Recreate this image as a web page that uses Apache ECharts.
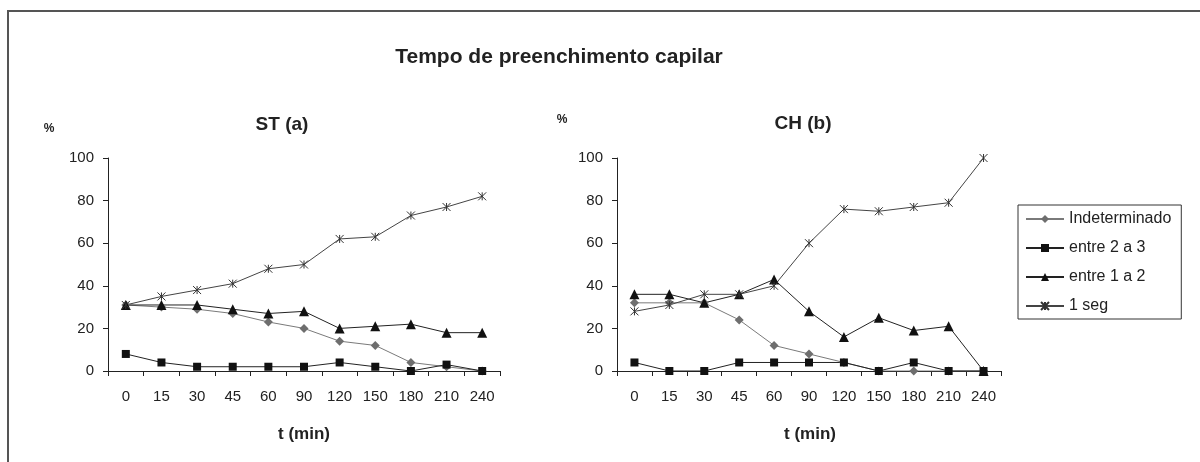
<!DOCTYPE html>
<html>
<head>
<meta charset="utf-8">
<style type="text/css">
  * { margin: 0; padding: 0; }
  body { background: #fff; }
</style>
<script src="https://cdn.jsdelivr.net/npm/echarts@6/dist/echarts.min.js"></script>
</head>
<body>
<div id="chart" style="width: 1200px;height: 462px;"></div>
<script type="text/javascript">
  // tempos (min)
  const categories = ['0', '15', '30', '45', '60', '90', '120', '150', '180', '210', '240']
  const yTicks = [0, 20, 40, 60, 80, 100]
  const seriesNames = ['Indeterminado', 'entre 2 a 3', 'entre 1 a 2', '1 seg']

  // ST (a)
  const stIndet = [31, 30, 29, 27, 23, 20, 14, 12, 4, 2, 0]
  const st23 = [8, 4, 2, 2, 2, 2, 4, 2, 0, 3, 0]
  const st12 = [31, 31, 31, 29, 27, 28, 20, 21, 22, 18, 18]
  const st1seg = [31, 35, 38, 41, 48, 50, 62, 63, 73, 77, 82]

  // CH (b)
  const chIndet = [32, 32, 32, 24, 12, 8, 4, 0, 0, 0, 0]
  const ch23 = [4, 0, 0, 4, 4, 4, 4, 0, 4, 0, 0]
  const ch12 = [36, 36, 32, 36, 43, 28, 16, 25, 19, 21, 0]
  const ch1seg = [28, 31, 36, 36, 40, 60, 76, 75, 77, 79, 100]

  const font = 'Liberation Sans, Arial, sans-serif'
  const star = 'path://M0,0L10,10M10,0L0,10M5,0L5,10'

  // estilo de cada serie, igual nos dois graficos
  function makeSeries(name, data, idx) {
    let s = {
      name: name,
      type: 'line',
      xAxisIndex: idx,
      yAxisIndex: idx,
      data: data,
      symbolKeepAspect: true,
      animation: false
    }
    if (name === 'Indeterminado') {
      s.symbol = 'diamond'
      s.symbolSize = 9
      s.itemStyle = {color: '#6e6e6e'}
      s.lineStyle = {color: '#7a7a7a', width: 1}
    } else if (name === 'entre 2 a 3') {
      s.symbol = 'rect'
      s.symbolSize = 8
      s.itemStyle = {color: '#111'}
      s.lineStyle = {color: '#222', width: 1}
    } else if (name === 'entre 1 a 2') {
      s.symbol = 'triangle'
      s.symbolSize = 10
      s.itemStyle = {color: '#111'}
      s.lineStyle = {color: '#222', width: 1}
    } else {
      s.symbol = star
      s.symbolSize = 8
      s.itemStyle = {color: 'transparent', borderColor: '#333', borderWidth: 1}
      s.lineStyle = {color: '#444', width: 1}
    }
    return s
  }

  function xAxis(idx) {
    return {
      type: 'category',
      gridIndex: idx,
      data: categories,
      boundaryGap: true,
      axisLine: {lineStyle: {color: '#222', width: 1}},
      axisTick: {show: true, length: 5, lineStyle: {color: '#222'}},
      axisLabel: {color: '#222', fontSize: 15, fontFamily: font, margin: 18, interval: 0}
    }
  }

  function yAxis(idx) {
    return {
      type: 'value',
      gridIndex: idx,
      min: yTicks[0],
      max: yTicks[yTicks.length - 1],
      interval: 20,
      splitLine: {show: false},
      axisLine: {show: true, lineStyle: {color: '#222', width: 1}},
      axisTick: {show: true, length: 5, lineStyle: {color: '#222'}},
      axisLabel: {color: '#222', fontSize: 15, fontFamily: font, margin: 14}
    }
  }

  function label(text, x, y, size, bold) {
    return {
      type: 'text',
      x: x,
      y: y,
      style: {
        text: text,
        fill: '#222',
        font: (bold ? 'bold ' : '') + size + 'px ' + font,
        align: 'center',
        verticalAlign: 'middle'
      }
    }
  }

  let myChart = echarts.init(document.getElementById('chart'))
  myChart.setOption({
    backgroundColor: '#fff',
    animation: false,
    grid: [
      {left: 108, top: 158, width: 392, height: 213},
      {left: 617, top: 158, width: 384, height: 213}
    ],
    xAxis: [xAxis(0), xAxis(1)],
    yAxis: [yAxis(0), yAxis(1)],
    legend: {
      orient: 'vertical',
      left: 1018,
      top: 205,
      padding: [6, 10, 5, 7],
      itemGap: 13,
      itemWidth: 38,
      itemHeight: 10,
      borderColor: '#333',
      borderWidth: 1,
      borderRadius: 0,
      textStyle: {color: '#222', fontSize: 16, fontFamily: font},
      data: seriesNames
    },
    graphic: [
      // moldura
      {type: 'polyline', shape: {points: [[1200, 11], [8, 11], [8, 462]]}, style: {stroke: '#555', lineWidth: 2, fill: null}},
      label('Tempo de preenchimento capilar', 559, 57, 21, true),
      label('ST (a)', 282, 125, 19, true),
      label('CH (b)', 803, 124, 19, true),
      label('%', 49, 129, 12, true),
      label('%', 562, 120, 12, true),
      label('t (min)', 304, 434, 17, true),
      label('t (min)', 810, 434, 17, true)
    ],
    series: [
      makeSeries(seriesNames[0], stIndet, 0),
      makeSeries(seriesNames[1], st23, 0),
      makeSeries(seriesNames[2], st12, 0),
      makeSeries(seriesNames[3], st1seg, 0),
      makeSeries(seriesNames[0], chIndet, 1),
      makeSeries(seriesNames[1], ch23, 1),
      makeSeries(seriesNames[2], ch12, 1),
      makeSeries(seriesNames[3], ch1seg, 1)
    ]
  })
</script>
</body>
</html>
